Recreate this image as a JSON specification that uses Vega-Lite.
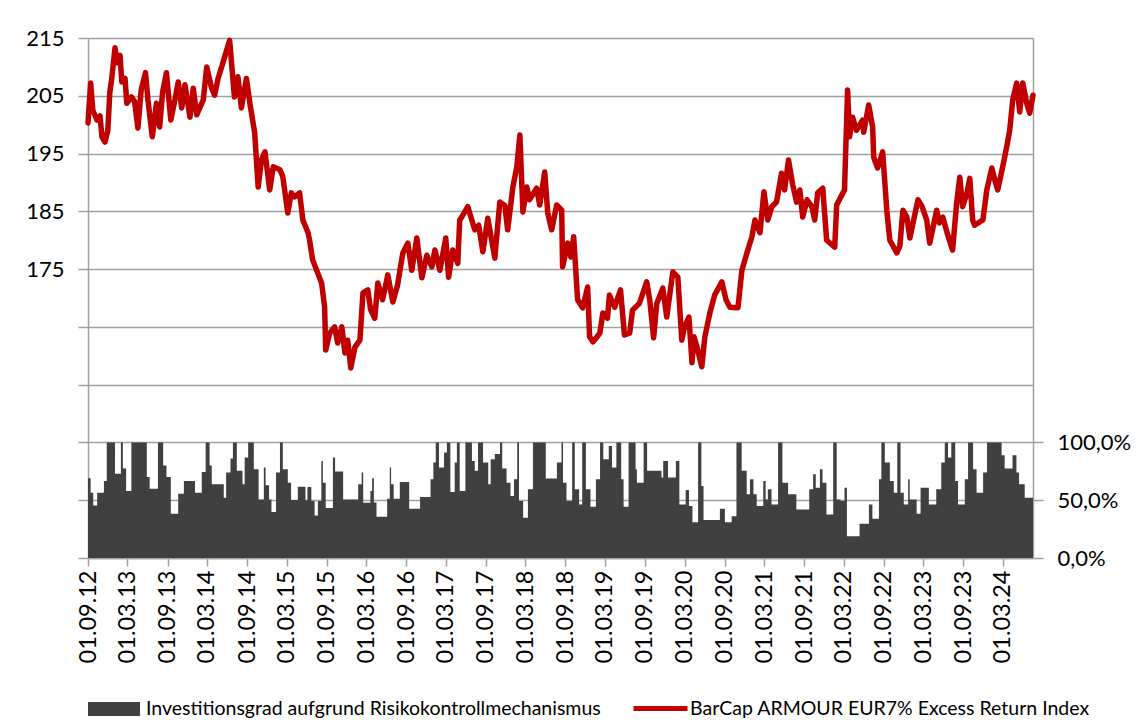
{
 "$schema": "https://vega.github.io/schema/vega-lite/v6.json",
 "width": 945, "height": 520,
 "autosize": {"type": "none"},
 "padding": {"left": 88, "top": 38, "right": 107, "bottom": 162},
 "background": "white",
 "config": {"view": {"stroke": null}, "font": "Lato",
   "axis": {"labelColor": "#000000", "labelFont": "Lato", "domainColor": "#a0a0a0", "tickColor": "#a0a0a0", "gridColor": "#a0a0a0", "domainWidth": 1.5, "tickWidth": 1.5, "gridWidth": 1.5, "title": null}},
 "datasets": {
  "idx": [
{"d":"2012-09-01","v":200.3},{"d":"2012-09-13","v":207.2},{"d":"2012-09-23","v":202.5},{"d":"2012-10-12","v":200.8},{"d":"2012-10-26","v":201.5},{"d":"2012-11-04","v":197.9},{"d":"2012-11-18","v":197.0},{"d":"2012-12-01","v":199.0},{"d":"2012-12-10","v":205.5},{"d":"2012-12-19","v":208.0},
{"d":"2013-01-03","v":213.3},{"d":"2013-01-13","v":210.7},{"d":"2013-01-26","v":212.0},{"d":"2013-02-03","v":207.4},{"d":"2013-02-18","v":208.0},{"d":"2013-02-26","v":203.7},{"d":"2013-03-19","v":204.8},{"d":"2013-04-03","v":204.0},{"d":"2013-04-18","v":199.4},{"d":"2013-05-03","v":206.0},{"d":"2013-05-23","v":209.0},{"d":"2013-06-03","v":204.3},{"d":"2013-06-23","v":197.9},{"d":"2013-07-12","v":203.7},{"d":"2013-07-27","v":199.6},{"d":"2013-08-09","v":205.5},{"d":"2013-08-27","v":209.0},{"d":"2013-09-16","v":200.8},{"d":"2013-10-05","v":204.3},{"d":"2013-10-20","v":207.4},{"d":"2013-11-05","v":202.9},{"d":"2013-11-20","v":206.9},{"d":"2013-12-13","v":201.3},{"d":"2013-12-28","v":206.3},
{"d":"2014-01-13","v":201.7},{"d":"2014-02-12","v":204.3},{"d":"2014-02-28","v":210.0},{"d":"2014-03-21","v":206.5},{"d":"2014-04-05","v":205.1},{"d":"2014-04-21","v":208.0},{"d":"2014-05-13","v":210.7},{"d":"2014-06-13","v":214.6},{"d":"2014-07-05","v":204.8},{"d":"2014-07-21","v":208.3},{"d":"2014-08-06","v":202.9},{"d":"2014-08-29","v":208.0},{"d":"2014-09-14","v":203.7},{"d":"2014-10-06","v":198.6},{"d":"2014-10-22","v":189.2},{"d":"2014-11-06","v":193.9},{"d":"2014-11-22","v":195.3},{"d":"2014-12-14","v":188.7},{"d":"2014-12-30","v":192.7},
{"d":"2015-01-30","v":192.2},{"d":"2015-02-12","v":191.0},{"d":"2015-03-07","v":184.7},{"d":"2015-03-23","v":188.2},{"d":"2015-04-07","v":187.5},{"d":"2015-04-30","v":188.2},{"d":"2015-05-15","v":183.5},{"d":"2015-06-08","v":181.3},{"d":"2015-06-15","v":180.0},{"d":"2015-06-29","v":176.6},{"d":"2015-08-09","v":172.6},{"d":"2015-08-23","v":168.4},{"d":"2015-08-28","v":161.0},{"d":"2015-09-15","v":163.9},{"d":"2015-10-08","v":165.0},{"d":"2015-10-22","v":162.2},{"d":"2015-11-10","v":165.0},{"d":"2015-11-24","v":160.5},{"d":"2015-12-07","v":162.7},{"d":"2015-12-21","v":157.9},
{"d":"2016-01-09","v":161.5},{"d":"2016-02-01","v":162.7},{"d":"2016-02-15","v":170.9},{"d":"2016-03-08","v":171.4},{"d":"2016-03-21","v":168.0},{"d":"2016-04-09","v":166.5},{"d":"2016-04-23","v":172.6},{"d":"2016-05-15","v":169.7},{"d":"2016-06-08","v":174.0},{"d":"2016-07-01","v":169.3},{"d":"2016-07-23","v":172.3},{"d":"2016-08-16","v":177.8},{"d":"2016-09-08","v":179.5},{"d":"2016-09-26","v":174.8},{"d":"2016-10-19","v":180.4},{"d":"2016-11-11","v":173.5},{"d":"2016-12-04","v":177.4},{"d":"2016-12-27","v":175.4},
{"d":"2017-01-10","v":178.3},{"d":"2017-02-02","v":174.8},{"d":"2017-03-01","v":180.4},{"d":"2017-03-14","v":173.6},{"d":"2017-04-02","v":178.3},{"d":"2017-04-25","v":176.0},{"d":"2017-05-04","v":183.5},{"d":"2017-05-13","v":184.0},{"d":"2017-06-10","v":185.8},{"d":"2017-07-12","v":181.8},{"d":"2017-07-30","v":182.6},{"d":"2017-08-18","v":178.0},{"d":"2017-09-10","v":183.8},{"d":"2017-10-12","v":176.9},{"d":"2017-11-04","v":186.6},{"d":"2017-11-27","v":186.0},{"d":"2017-12-10","v":181.8},
{"d":"2018-01-03","v":189.2},{"d":"2018-01-21","v":192.7},{"d":"2018-02-04","v":198.2},{"d":"2018-02-18","v":184.9},{"d":"2018-03-08","v":189.2},{"d":"2018-03-20","v":187.0},{"d":"2018-04-22","v":189.0},{"d":"2018-05-06","v":186.1},{"d":"2018-05-29","v":191.8},{"d":"2018-06-12","v":184.7},{"d":"2018-06-30","v":181.8},{"d":"2018-07-23","v":186.1},{"d":"2018-08-15","v":185.2},{"d":"2018-08-19","v":175.4},{"d":"2018-09-12","v":179.5},{"d":"2018-09-26","v":177.1},{"d":"2018-10-09","v":180.6},{"d":"2018-10-27","v":169.7},{"d":"2018-11-19","v":168.3},{"d":"2018-12-12","v":171.9},{"d":"2018-12-21","v":163.3},
{"d":"2019-01-05","v":162.4},{"d":"2019-02-06","v":163.9},{"d":"2019-02-20","v":167.4},{"d":"2019-03-13","v":166.5},{"d":"2019-03-22","v":170.5},{"d":"2019-04-15","v":168.4},{"d":"2019-05-12","v":171.4},{"d":"2019-05-30","v":163.6},{"d":"2019-06-23","v":163.9},{"d":"2019-07-06","v":167.9},{"d":"2019-08-07","v":169.1},{"d":"2019-09-09","v":172.8},{"d":"2019-09-23","v":169.7},{"d":"2019-10-11","v":163.1},{"d":"2019-10-25","v":169.0},{"d":"2019-11-22","v":171.7},{"d":"2019-12-10","v":166.7},
{"d":"2020-01-07","v":174.5},{"d":"2020-01-30","v":173.6},{"d":"2020-02-17","v":162.7},{"d":"2020-03-01","v":165.0},{"d":"2020-03-21","v":166.7},{"d":"2020-04-04","v":158.8},{"d":"2020-04-13","v":163.3},{"d":"2020-04-27","v":161.5},{"d":"2020-05-19","v":158.1},{"d":"2020-06-02","v":163.3},{"d":"2020-06-25","v":167.4},{"d":"2020-07-17","v":170.5},{"d":"2020-08-19","v":172.8},{"d":"2020-09-07","v":169.7},{"d":"2020-09-25","v":168.4},{"d":"2020-11-01","v":168.3},{"d":"2020-11-19","v":174.8},{"d":"2020-12-12","v":177.8},
{"d":"2021-01-04","v":180.6},{"d":"2021-01-18","v":183.5},{"d":"2021-02-10","v":181.3},{"d":"2021-02-28","v":188.4},{"d":"2021-03-18","v":183.5},{"d":"2021-04-05","v":185.8},{"d":"2021-04-27","v":186.6},{"d":"2021-05-20","v":191.6},{"d":"2021-06-03","v":188.7},{"d":"2021-06-21","v":193.9},{"d":"2021-07-10","v":189.6},{"d":"2021-07-28","v":186.6},{"d":"2021-08-12","v":188.7},{"d":"2021-08-25","v":184.0},{"d":"2021-09-14","v":187.0},{"d":"2021-10-06","v":185.8},{"d":"2021-10-19","v":183.5},{"d":"2021-11-02","v":188.2},{"d":"2021-11-25","v":189.0},{"d":"2021-12-13","v":180.0},
{"d":"2022-01-19","v":178.8},{"d":"2022-01-28","v":186.1},{"d":"2022-02-20","v":187.8},{"d":"2022-03-05","v":188.7},{"d":"2022-03-19","v":206.0},{"d":"2022-03-28","v":197.9},{"d":"2022-04-11","v":201.3},{"d":"2022-04-29","v":199.0},{"d":"2022-05-27","v":200.8},{"d":"2022-06-01","v":198.7},{"d":"2022-06-24","v":203.4},{"d":"2022-07-12","v":199.6},{"d":"2022-07-17","v":194.4},{"d":"2022-07-21","v":193.9},{"d":"2022-08-04","v":192.5},{"d":"2022-08-27","v":195.3},{"d":"2022-09-15","v":185.2},{"d":"2022-09-24","v":181.8},{"d":"2022-09-29","v":180.0},{"d":"2022-10-31","v":177.8},{"d":"2022-11-14","v":179.0},{"d":"2022-11-28","v":185.2},{"d":"2022-12-16","v":184.0},{"d":"2022-12-30","v":180.4},
{"d":"2023-02-05","v":187.0},{"d":"2023-02-24","v":185.8},{"d":"2023-03-17","v":183.5},{"d":"2023-03-31","v":179.5},{"d":"2023-05-02","v":185.2},{"d":"2023-05-15","v":183.0},{"d":"2023-05-30","v":184.0},{"d":"2023-06-21","v":181.0},{"d":"2023-07-14","v":178.3},{"d":"2023-08-02","v":186.6},{"d":"2023-08-16","v":190.9},{"d":"2023-08-29","v":185.8},{"d":"2023-09-17","v":188.0},{"d":"2023-10-01","v":190.7},{"d":"2023-10-14","v":183.5},{"d":"2023-10-23","v":182.6},{"d":"2023-11-30","v":183.5},{"d":"2023-12-18","v":188.7},
{"d":"2024-01-10","v":192.5},{"d":"2024-01-24","v":190.4},{"d":"2024-02-06","v":188.7},{"d":"2024-02-29","v":192.7},{"d":"2024-03-18","v":196.1},{"d":"2024-04-01","v":199.0},{"d":"2024-04-15","v":204.3},{"d":"2024-05-03","v":207.2},{"d":"2024-05-17","v":202.2},{"d":"2024-05-31","v":207.2},{"d":"2024-06-18","v":203.7},{"d":"2024-07-02","v":202.0},{"d":"2024-07-17","v":205.1}
  ],
  "inv": [
{"d":"2012-09-01","p":0.69},{"d":"2012-09-13","p":0.565},{"d":"2012-09-25","p":0.455},{"d":"2012-10-13","p":0.565},{"d":"2012-11-13","p":0.667},{"d":"2012-11-26","p":1.0},{"d":"2013-01-03","p":0.73},{"d":"2013-01-30","p":1.0},{"d":"2013-02-08","p":0.774},{"d":"2013-02-23","p":0.58},{"d":"2013-03-19","p":1.0},{"d":"2013-05-29","p":0.70},{"d":"2013-06-11","p":0.60},{"d":"2013-07-19","p":1.0},{"d":"2013-08-12","p":0.80},{"d":"2013-08-27","p":0.70},{"d":"2013-09-16","p":0.383},{"d":"2013-10-20","p":0.557},{"d":"2013-11-15","p":0.667},
{"d":"2014-01-05","p":0.565},{"d":"2014-02-05","p":0.745},{"d":"2014-02-23","p":1.0},{"d":"2014-03-13","p":0.80},{"d":"2014-03-23","p":0.638},{"d":"2014-05-17","p":0.522},{"d":"2014-05-28","p":0.739},{"d":"2014-06-17","p":0.86},{"d":"2014-06-28","p":1.0},{"d":"2014-07-16","p":0.754},{"d":"2014-08-11","p":0.638},{"d":"2014-08-21","p":0.87},{"d":"2014-09-06","p":1.0},{"d":"2014-10-02","p":0.768},{"d":"2014-10-24","p":0.507},{"d":"2014-11-17","p":0.783},{"d":"2014-11-25","p":0.629},{"d":"2014-12-11","p":0.507},{"d":"2014-12-22","p":0.397},
{"d":"2015-01-12","p":0.739},{"d":"2015-01-30","p":1.0},{"d":"2015-02-12","p":0.768},{"d":"2015-03-07","p":0.652},{"d":"2015-03-22","p":0.501},{"d":"2015-04-22","p":0.617},{"d":"2015-05-27","p":0.50},{"d":"2015-06-05","p":0.614},{"d":"2015-06-23","p":0.493},{"d":"2015-07-08","p":0.368},{"d":"2015-07-23","p":0.493},{"d":"2015-08-08","p":0.84},{"d":"2015-08-15","p":0.652},{"d":"2015-08-28","p":0.432},{"d":"2015-09-30","p":0.87},{"d":"2015-10-10","p":0.748},{"d":"2015-11-16","p":0.507},
{"d":"2016-01-24","p":0.638},{"d":"2016-02-09","p":0.739},{"d":"2016-02-16","p":0.478},{"d":"2016-03-20","p":0.58},{"d":"2016-03-28","p":0.69},{"d":"2016-04-05","p":0.48},{"d":"2016-04-17","p":0.357},{"d":"2016-06-05","p":0.513},{"d":"2016-06-17","p":0.783},{"d":"2016-06-23","p":0.638},{"d":"2016-07-05","p":0.513},{"d":"2016-08-02","p":0.658},{"d":"2016-09-14","p":0.426},{"d":"2016-11-03","p":0.528},{"d":"2016-12-21","p":0.681},
{"d":"2017-01-03","p":0.826},{"d":"2017-01-14","p":1.0},{"d":"2017-01-29","p":0.783},{"d":"2017-02-21","p":0.913},{"d":"2017-03-06","p":1.0},{"d":"2017-03-22","p":0.571},{"d":"2017-04-11","p":0.826},{"d":"2017-04-21","p":1.0},{"d":"2017-05-04","p":0.58},{"d":"2017-05-30","p":1.0},{"d":"2017-06-29","p":0.84},{"d":"2017-07-12","p":0.754},{"d":"2017-07-27","p":1.0},{"d":"2017-08-19","p":0.826},{"d":"2017-09-12","p":0.638},{"d":"2017-09-23","p":0.855},{"d":"2017-10-12","p":0.9},{"d":"2017-11-05","p":1.0},{"d":"2017-11-15","p":0.774},{"d":"2017-12-05","p":0.652},{"d":"2017-12-23","p":0.536},
{"d":"2018-01-08","p":0.681},{"d":"2018-01-23","p":1.0},{"d":"2018-01-31","p":0.493},{"d":"2018-02-19","p":0.348},{"d":"2018-03-13","p":0.594},{"d":"2018-04-05","p":1.0},{"d":"2018-06-03","p":0.687},{"d":"2018-07-24","p":0.826},{"d":"2018-08-14","p":1.0},{"d":"2018-08-21","p":0.652},{"d":"2018-09-06","p":0.493},{"d":"2018-10-02","p":1.0},{"d":"2018-10-14","p":0.594},{"d":"2018-11-03","p":0.464},{"d":"2018-11-17","p":1.0},{"d":"2018-12-04","p":0.594},{"d":"2018-12-25","p":0.443},
{"d":"2019-01-19","p":0.681},{"d":"2019-02-07","p":1.0},{"d":"2019-02-22","p":0.855},{"d":"2019-03-19","p":0.97},{"d":"2019-04-03","p":0.783},{"d":"2019-04-23","p":1.0},{"d":"2019-05-15","p":0.681},{"d":"2019-05-26","p":0.443},{"d":"2019-06-18","p":1.0},{"d":"2019-07-20","p":0.768},{"d":"2019-07-26","p":0.652},{"d":"2019-08-26","p":1.0},{"d":"2019-09-11","p":0.754},{"d":"2019-11-16","p":0.696},{"d":"2019-11-24","p":0.84},{"d":"2019-12-16","p":0.696},
{"d":"2020-01-21","p":0.84},{"d":"2020-02-06","p":0.464},{"d":"2020-03-06","p":0.588},{"d":"2020-03-21","p":0.45},{"d":"2020-04-06","p":0.31},{"d":"2020-05-02","p":1.0},{"d":"2020-05-17","p":0.623},{"d":"2020-05-27","p":0.328},{"d":"2020-08-10","p":0.426},{"d":"2020-09-02","p":0.31},{"d":"2020-10-03","p":0.362},{"d":"2020-10-25","p":1.0},{"d":"2020-11-18","p":0.754},{"d":"2020-12-11","p":0.551},{"d":"2020-12-26","p":0.681},
{"d":"2021-01-11","p":0.551},{"d":"2021-01-26","p":0.449},{"d":"2021-02-25","p":0.667},{"d":"2021-03-08","p":0.507},{"d":"2021-03-18","p":0.594},{"d":"2021-04-04","p":0.464},{"d":"2021-05-04","p":1.0},{"d":"2021-05-24","p":0.652},{"d":"2021-06-19","p":0.551},{"d":"2021-07-27","p":0.42},{"d":"2021-09-24","p":0.594},{"d":"2021-10-12","p":0.725},{"d":"2021-10-24","p":0.609},{"d":"2021-11-12","p":0.768},{"d":"2021-11-24","p":0.652},{"d":"2021-12-12","p":0.377},
{"d":"2022-01-12","p":1.0},{"d":"2022-01-28","p":0.507},{"d":"2022-02-15","p":0.493},{"d":"2022-03-05","p":0.609},{"d":"2022-03-16","p":0.188},{"d":"2022-05-13","p":0.296},{"d":"2022-06-25","p":0.464},{"d":"2022-07-11","p":0.339},{"d":"2022-08-10","p":0.681},{"d":"2022-08-21","p":1.0},{"d":"2022-09-06","p":0.826},{"d":"2022-09-29","p":0.667},{"d":"2022-10-17","p":0.565},{"d":"2022-11-02","p":1.0},{"d":"2022-11-17","p":0.565},{"d":"2022-12-02","p":0.464},{"d":"2022-12-22","p":0.681},{"d":"2022-12-29","p":0.507},
{"d":"2023-01-30","p":0.383},{"d":"2023-02-17","p":0.609},{"d":"2023-03-27","p":0.464},{"d":"2023-04-30","p":0.594},{"d":"2023-05-23","p":0.826},{"d":"2023-06-08","p":1.0},{"d":"2023-06-23","p":0.87},{"d":"2023-07-08","p":1.0},{"d":"2023-07-26","p":0.667},{"d":"2023-08-08","p":0.464},{"d":"2023-09-08","p":0.681},{"d":"2023-09-23","p":1.0},{"d":"2023-10-16","p":0.768},{"d":"2023-11-01","p":0.565},{"d":"2023-12-01","p":0.739},{"d":"2023-12-19","p":1.0},
{"d":"2024-02-24","p":0.89},{"d":"2024-03-09","p":0.774},{"d":"2024-04-14","p":0.89},{"d":"2024-05-02","p":0.739},{"d":"2024-05-14","p":0.638},{"d":"2024-06-09","p":0.522},{"d":"2024-07-17","p":0.522}
  ]
 },
 "layer": [
  {
   "data": {"name": "inv"},
   "mark": {"type": "area", "interpolate": "step-after"},
   "encoding": {
    "x": {"field": "d", "type": "temporal",
      "scale": {"type": "utc", "domain": [{"year": 2012, "month": 9, "date": 1, "utc": true}, {"year": 2024, "month": 7, "date": 17, "utc": true}]},
      "axis": {"values": [
        {"year":2012,"month":9,"date":1,"utc":true},{"year":2013,"month":3,"date":1,"utc":true},{"year":2013,"month":9,"date":1,"utc":true},{"year":2014,"month":3,"date":1,"utc":true},{"year":2014,"month":9,"date":1,"utc":true},{"year":2015,"month":3,"date":1,"utc":true},{"year":2015,"month":9,"date":1,"utc":true},{"year":2016,"month":3,"date":1,"utc":true},{"year":2016,"month":9,"date":1,"utc":true},{"year":2017,"month":3,"date":1,"utc":true},{"year":2017,"month":9,"date":1,"utc":true},{"year":2018,"month":3,"date":1,"utc":true},{"year":2018,"month":9,"date":1,"utc":true},{"year":2019,"month":3,"date":1,"utc":true},{"year":2019,"month":9,"date":1,"utc":true},{"year":2020,"month":3,"date":1,"utc":true},{"year":2020,"month":9,"date":1,"utc":true},{"year":2021,"month":3,"date":1,"utc":true},{"year":2021,"month":9,"date":1,"utc":true},{"year":2022,"month":3,"date":1,"utc":true},{"year":2022,"month":9,"date":1,"utc":true},{"year":2023,"month":3,"date":1,"utc":true},{"year":2023,"month":9,"date":1,"utc":true},{"year":2024,"month":3,"date":1,"utc":true}],
        "format": "%d.%m.%y", "labelAngle": -90, "labelFontSize": 23.5, "tickSize": 8, "labelPadding": 4, "grid": false, "labelOverlap": false, "labelFlush": false}},
    "y": {"field": "p", "type": "quantitative", "scale": {"domain": [0, 4.5], "nice": false},
      "axis": {"orient": "right", "values": [0, 0.5, 1], "format": ".1%", "labelExpr": "replace(datum.label, '.', ',')", "grid": false, "tickSize": 10, "labelFontSize": 22, "labelPadding": 14}},
    "fill": {"datum": "Investitionsgrad aufgrund Risikokontrollmechanismus", "type": "nominal", "scale": {"range": ["#404040"]},
      "legend": {"title": null, "orient": "none", "legendX": 0, "legendY": 645, "symbolType": "M-1,-0.27H1V0.27H-1Z", "symbolSize": 2704, "symbolStrokeWidth": 0, "symbolOpacity": 1, "labelFontSize": 19.5, "labelFont": "Lato", "labelColor": "#000000", "labelOffset": 6, "labelLimit": 0, "padding": 0}}
   }
  },
  {
   "data": {"name": "idx"},
   "mark": {"type": "line", "strokeWidth": 5.5, "strokeJoin": "round", "strokeCap": "round"},
   "encoding": {
    "x": {"field": "d", "type": "temporal"},
    "y": {"field": "v", "type": "quantitative", "scale": {"domain": [125, 215], "nice": false},
      "axis": {"orient": "left", "values": [125,135,145,155,165,175,185,195,205,215], "labelExpr": "datum.value >= 175 ? datum.label : ''", "grid": true, "tickSize": 10, "labelFontSize": 22, "labelPadding": 14}},
    "stroke": {"datum": "BarCap ARMOUR EUR7% Excess Return Index", "type": "nominal", "scale": {"range": ["#c00000"]},
      "legend": {"title": null, "orient": "none", "legendX": 543, "legendY": 641, "symbolType": "stroke", "symbolSize": 2916, "symbolStrokeWidth": 5, "labelFontSize": 19.5, "labelFont": "Lato", "labelColor": "#000000", "labelOffset": 0, "labelLimit": 0, "padding": 0}}
   }
  }
 ],
 "resolve": {"scale": {"y": "independent", "fill": "independent", "stroke": "independent"}}
}
